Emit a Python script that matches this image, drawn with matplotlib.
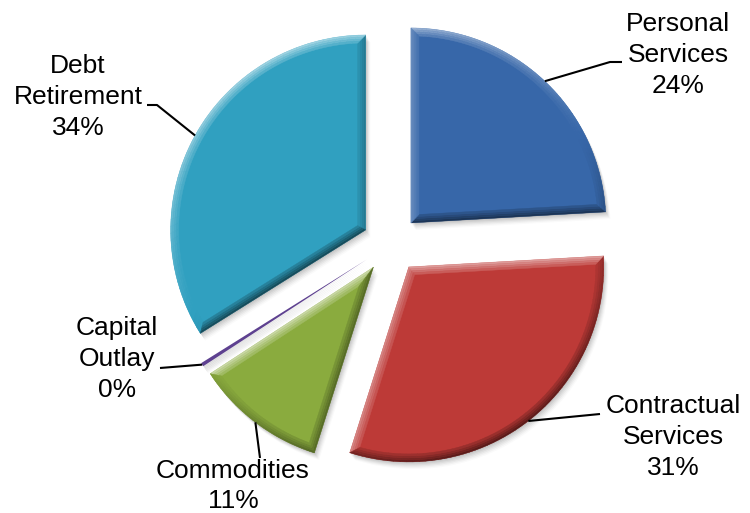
import numpy as np
import matplotlib.pyplot as plt
from matplotlib.patches import Polygon, Wedge
from matplotlib.colors import to_rgb

# budget shares, clockwise from 12 o'clock
categories = ['Personal\nServices', 'Contractual\nServices', 'Commodities',
              'Capital\nOutlay', 'Debt\nRetirement']
shares = [24.1, 30.8, 10.9, 0.3, 33.9]
colors = ['#3767a9', '#bd3a37', '#8aab3e', '#5e4190', '#30a0c0']

# label centres and leader elbows, in pixels from the top-left corner
label_pos = [(678, 55), (673, 437), (233, 486), (117, 359), (78, 97)]
leader_pts = [[(610, 62), (622, 62)],
              [(600, 414)],
              [(260, 458)],
              [(160, 368)],
              [(157, 105), (147, 105)]]

W, H = 750, 513
plt.rcParams['font.family'] = ['Liberation Sans', 'DejaVu Sans']

fig = plt.figure(figsize=(W / 100, H / 100), dpi=100)
ax = fig.add_axes([0, 0, 1, 1])


def flip(p):
    return p[0], H - p[1]


def shade(c, s, k=0.35):
    c = np.array(to_rgb(c))
    if s > 0:
        return tuple(c + (1 - c) * k * s)
    return tuple(c * (1 + k * s))


def bevel(w, color, b=8, n=60, layers=4):
    # lit/shadowed band along the edges of a wedge, fading inwards
    cx, cy = w.center
    r = w.r
    t1, t2 = np.radians(w.theta1), np.radians(w.theta2)
    span = t2 - t1
    if np.degrees(span) < 5:
        return
    mid = t1 + span / 2
    A = np.array([cx, cy])
    light = np.array([-0.45, 0.9])
    light /= np.hypot(*light)
    to = np.linspace(t1, t2, n)

    def ring(bb):
        d = bb / np.sin(span / 2)
        apex = A + d * np.array([np.cos(mid), np.sin(mid)])
        dl = np.arcsin(bb / (r - bb))
        tt = np.linspace(t1 + dl, t2 - dl, n)
        return apex, A + (r - bb) * np.c_[np.cos(tt), np.sin(tt)]

    steps = np.linspace(0, b, layers + 1)
    for j in range(layers):
        A1, P = ring(steps[j])
        A2, Q = ring(steps[j + 1])
        if j == 0:
            A1 = A
            P = A + r * np.c_[np.cos(to), np.sin(to)]
        k = 0.45 * (1 - j / layers) + 0.08

        def quad(pts, ang):
            s = np.dot([np.cos(ang), np.sin(ang)], light)
            fc = shade(color, s, k)
            ax.add_patch(Polygon(pts, closed=True, fc=fc, ec=fc, lw=0.3, zorder=3))

        quad([A1, P[0], Q[0], A2], t1 - np.pi / 2)
        for i in range(n - 1):
            quad([P[i], P[i + 1], Q[i + 1], Q[i]], (to[i] + to[i + 1]) / 2)
        quad([P[-1], A1, A2, Q[-1]], t2 + np.pi / 2)


center = flip((391, 244))
radius = 195
wedges, _ = ax.pie(shares, colors=colors, startangle=90, counterclock=False,
                   radius=radius, center=center, explode=[29] * len(shares),
                   wedgeprops=dict(linewidth=0, zorder=2))

for w, c in zip(wedges, colors):
    # soft drop shadow
    for k, a in zip(range(1, 7), [0.06, 0.05, 0.045, 0.04, 0.03, 0.02]):
        ax.add_patch(Wedge((w.center[0] + k * 0.8, w.center[1] - k * 1.2), w.r,
                           w.theta1, w.theta2, fc='black', ec='none',
                           alpha=a, zorder=1))
    bevel(w, c)

for w, cat, v, pos, pts in zip(wedges, categories, shares, label_pos, leader_pts):
    mid = np.radians((w.theta1 + w.theta2) / 2)
    start = (w.center[0] + w.r * np.cos(mid), w.center[1] + w.r * np.sin(mid))
    path = [start] + [flip(p) for p in pts]
    xs, ys = zip(*path)
    ax.plot(xs, ys, color='black', lw=1.5, zorder=4, solid_capstyle='butt')
    x, y = flip(pos)
    ax.text(x, y, f"{cat}\n{round(v)}%", ha='center', va='center',
            fontsize=19, linespacing=1.35, zorder=5)

ax.set_xlim(0, W)
ax.set_ylim(0, H)
ax.set_aspect('equal')
ax.axis('off')
fig.savefig('out.png', dpi=100, facecolor='white')
